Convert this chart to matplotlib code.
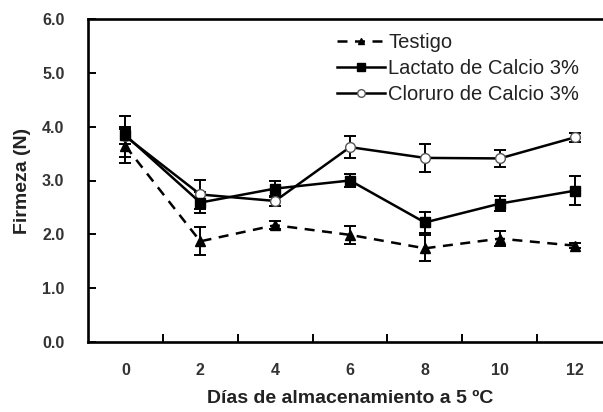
import matplotlib
matplotlib.use("Agg")
import matplotlib.pyplot as plt
from matplotlib.lines import Line2D
import numpy as np

days = ['0', '2', '4', '6', '8', '10', '12']
testigo = [3.64, 1.87, 2.17, 1.99, 1.74, 1.92, 1.79]
testigo_err = [0.31, 0.26, 0.08, 0.17, 0.24, 0.14, 0.04]
lactato = [3.84, 2.59, 2.85, 3.00, 2.22, 2.57, 2.81]
lactato_err = [0.16, 0.19, 0.15, 0.13, 0.20, 0.14, 0.27]
cloruro = [3.82, 2.74, 2.62, 3.62, 3.42, 3.41, 3.80]
cloruro_err = [0.38, 0.27, 0.10, 0.20, 0.26, 0.15, 0.08]
yticks = [0, 1, 2, 3, 4, 5, 6]
labels = ['Testigo', 'Lactato de Calcio 3%', 'Cloruro de Calcio 3%']

plt.rcParams['font.family'] = ['Liberation Sans', 'DejaVu Sans']

W, H = 603, 412
fig = plt.figure(figsize=(W / 100, H / 100), dpi=100)
ax = fig.add_axes([88 / W, 70 / H, 524 / W, 323 / H])

x = np.arange(len(days))
ekw = dict(capsize=4.5, elinewidth=1.4, capthick=1.4, ecolor='black')

ax.errorbar(x, testigo, yerr=testigo_err, color='black', lw=1.8,
            linestyle=(0, (4, 3)), marker='^', markersize=6.5,
            markerfacecolor='black', markeredgecolor='black', **ekw)
ax.errorbar(x, cloruro, yerr=cloruro_err, color='black', lw=1.8,
            linestyle='-', marker='o', markersize=7,
            markerfacecolor='white', markeredgecolor='#555555', **ekw)
ax.errorbar(x, lactato, yerr=lactato_err, color='black', lw=1.8,
            linestyle='-', marker='s', markersize=7.5,
            markerfacecolor='black', markeredgecolor='black', **ekw)

ax.set_xlim(-0.5, len(days) - 0.5)
ax.set_ylim(0, 6)

ax.set_xticks(x)
ax.set_xticklabels(days)
ax.set_xticks(np.arange(len(days) - 1) + 0.5, minor=True)
ax.tick_params(axis='x', which='major', length=0, pad=15)
ax.tick_params(axis='x', which='minor', direction='in', length=5.5, width=1.4)
ax.set_yticks(yticks)
ax.set_yticklabels([f'{v:.1f}' for v in yticks])
ax.tick_params(axis='y', direction='in', length=5.5, width=1.4, pad=17)
for lab in ax.get_xticklabels() + ax.get_yticklabels():
    lab.set_fontweight('bold')
    lab.set_fontsize(11.5)
    lab.set_color('#333333')

for s in ax.spines.values():
    s.set_linewidth(1.9)

ax.set_ylabel('Firmeza (N)', fontsize=14, fontweight='bold', color='#222222', labelpad=8)
ax.set_xlabel('Días de almacenamiento a 5 ºC', fontsize=14, fontweight='bold',
              color='#222222', labelpad=9)

handles = [
    Line2D([], [], color='black', lw=1.8, linestyle=(0, (4, 3)), marker='^',
           markersize=5, markerfacecolor='black'),
    Line2D([], [], color='black', lw=1.8, marker='s', markersize=6,
           markerfacecolor='black'),
    Line2D([], [], color='black', lw=1.8, marker='o', markersize=5.5,
           markerfacecolor='white', markeredgecolor='#555555'),
]
fig.legend(handles, labels, loc='upper left', bbox_to_anchor=(337 / W, 1 - 33 / H),
           frameon=False, fontsize=14.5, handlelength=2.4, handletextpad=0.15,
           labelspacing=0.35, borderpad=0, borderaxespad=0, labelcolor='#222222')

fig.savefig('out.png', dpi=100, facecolor='white')
